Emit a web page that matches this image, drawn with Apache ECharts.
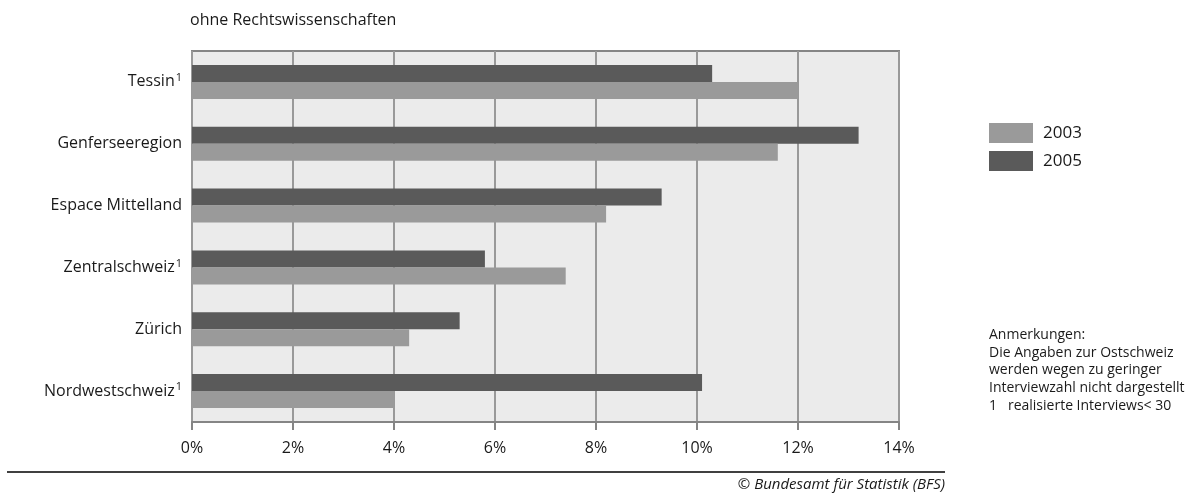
<!DOCTYPE html>
<html>
<head>
<meta charset="utf-8">
<script src="https://cdn.jsdelivr.net/npm/echarts@6/dist/echarts.min.js"></script>
<style>
  html, body { margin: 0; padding: 0; background: #fff; }
  #chart { width: 1197px; height: 495px; }
</style>
</head>
<body>
<div id="chart"></div>
<script>
// Regions, top to bottom; footnote marks regions with fewer than 30 interviews
const regions = ['Tessin', 'Genferseeregion', 'Espace Mittelland', 'Zentralschweiz', 'Zürich', 'Nordwestschweiz'];
const footnote = [true, false, false, true, false, true];
// Shares in percent
const values2003 = [12.0, 11.6, 8.2, 7.4, 4.3, 4.0];
const values2005 = [10.3, 13.2, 9.3, 5.8, 5.3, 10.1];
const xTicks = [0, 2, 4, 6, 8, 10, 12, 14];

const FONT = '"Open Sans", "Noto Sans", sans-serif';
const TEXT = '#1a1a1a';

const chart = echarts.init(document.getElementById('chart'), null, { renderer: 'canvas' });

chart.setOption({
  animation: false,
  backgroundColor: '#ffffff',
  textStyle: { fontFamily: FONT, color: TEXT },
  grid: {
    left: 192, top: 51, right: 298, bottom: 73,
    show: true, backgroundColor: '#ebebeb', borderColor: '#858585', borderWidth: 2
  },
  legend: {
    data: ['2003', '2005'],
    orient: 'vertical',
    left: 984, top: 118,
    itemWidth: 44, itemHeight: 20, itemGap: 8,
    icon: 'rect',
    textStyle: { fontFamily: FONT, fontSize: 17, color: TEXT, padding: [0, 0, 0, 5] }
  },
  xAxis: {
    type: 'value',
    min: xTicks[0], max: xTicks[xTicks.length - 1], interval: 2,
    axisLine: { show: true, lineStyle: { color: '#858585', width: 2 } },
    axisTick: { show: true, length: 8, lineStyle: { color: '#858585', width: 2 } },
    splitLine: { show: true, lineStyle: { color: '#999999', width: 2 } },
    axisLabel: {
      margin: 18, fontFamily: FONT, fontSize: 16, color: TEXT,
      formatter: v => v + '%'
    }
  },
  yAxis: {
    type: 'category',
    data: regions,
    inverse: true,
    axisLine: { show: false },
    axisTick: { show: false },
    splitLine: { show: false },
    axisLabel: {
      margin: 10, fontFamily: FONT, fontSize: 16, color: TEXT,
      formatter: (v, i) => footnote[i] ? '{n|' + v + '}{s|1}' : '{n|' + v + '}',
      rich: {
        n: { fontFamily: FONT, fontSize: 16, color: TEXT },
        s: { fontFamily: FONT, fontSize: 11, color: TEXT, padding: [0, 0, 8, 1] }
      }
    }
  },
  series: [
    {
      name: '2005', type: 'bar', data: values2005,
      barWidth: 17, barGap: '0%',
      itemStyle: { color: '#5a5a5a' }
    },
    {
      name: '2003', type: 'bar', data: values2003,
      barWidth: 17, barGap: '0%',
      itemStyle: { color: '#9a9a9a' }
    }
  ],
  graphic: [
    {
      type: 'text', left: 190, top: 12,
      style: { text: 'ohne Rechtswissenschaften', font: '16px ' + FONT, fill: TEXT }
    },
    {
      type: 'text', left: 989, top: 326,
      style: {
        text: 'Anmerkungen:\nDie Angaben zur Ostschweiz\nwerden wegen zu geringer\nInterviewzahl nicht dargestellt\n1   realisierte Interviews< 30',
        font: '14px ' + FONT, fill: TEXT, lineHeight: 17.7
      }
    },
    {
      type: 'line', shape: { x1: 7, y1: 472, x2: 945, y2: 472 },
      style: { stroke: '#000', lineWidth: 1.5 }
    },
    {
      type: 'text', right: 1197 - 945, top: 477,
      style: { text: '© Bundesamt für Statistik (BFS)', font: 'italic 15px ' + FONT, fill: TEXT }
    }
  ]
});
</script>
</body>
</html>
